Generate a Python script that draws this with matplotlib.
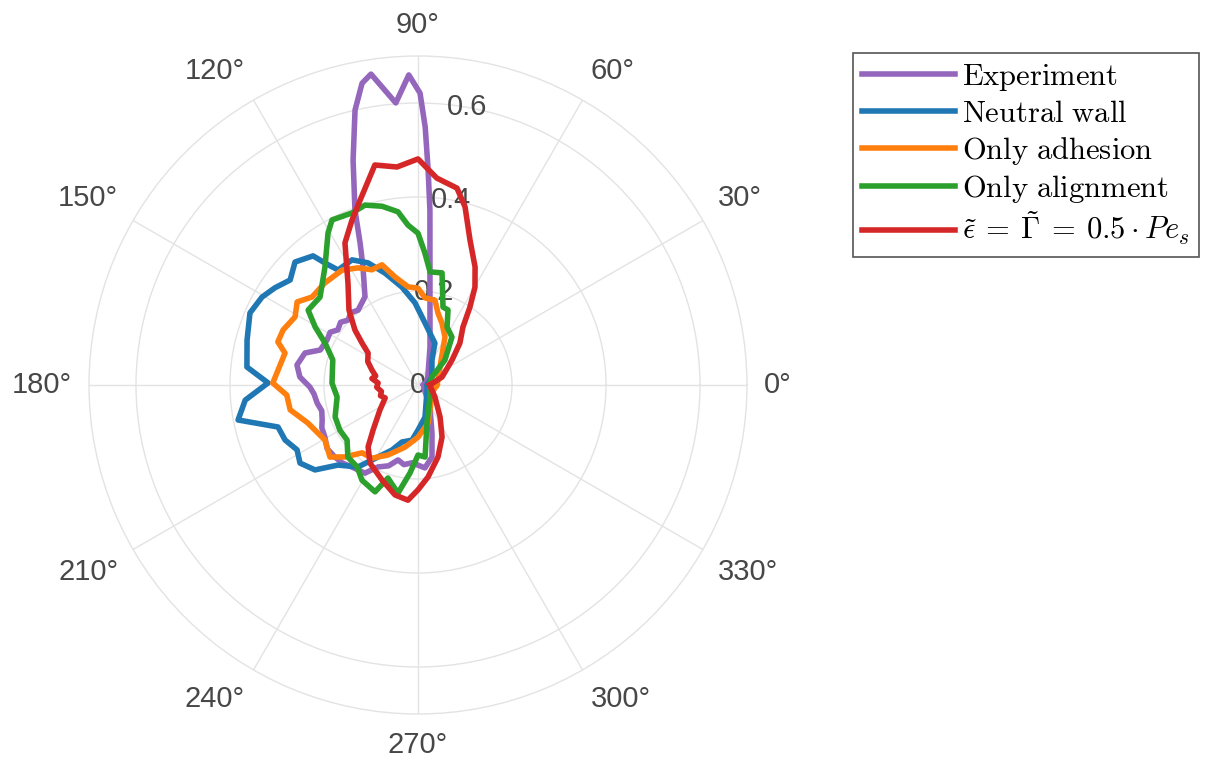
import numpy as np
import matplotlib.pyplot as plt

plt.rcParams['mathtext.fontset'] = 'cm'
plt.rcParams['font.family'] = ['Liberation Sans', 'DejaVu Sans']

# angle (deg) / radius pairs
exp_theta = [0, 20, 45, 72.5, 82, 86.1, 87.3, 88.4, 89.6, 91.7, 94.5, 98.6, 100.5, 102.9,
             106.1, 109.8, 112.2, 115, 121, 128.7, 133, 137.1, 141, 145.5, 149, 153.7, 160.3,
             164.2, 170.6, 176.1, 181.1, 185, 190.1, 195, 200, 204, 209.2, 215, 220.9, 226,
             231.2, 238.9, 244, 250, 255.1, 260, 265.6, 274.8, 281, 286.3, 298.6, 330]
exp_r = [0.012, 0.02, 0.03, 0.085, 0.183, 0.373, 0.458, 0.549, 0.621, 0.660, 0.602, 0.669, 0.653, 0.600,
         0.498, 0.396, 0.326, 0.277, 0.219, 0.204, 0.210, 0.203, 0.212, 0.207, 0.218, 0.216, 0.221,
         0.250, 0.261, 0.252, 0.230, 0.222, 0.218, 0.212, 0.217, 0.224, 0.227, 0.236, 0.234, 0.231,
         0.224, 0.219, 0.194, 0.183, 0.165, 0.172, 0.166, 0.177, 0.156, 0.106, 0.053, 0.015]

neutral_theta = [0, 30, 60.8, 68, 83.6, 92.1, 99.3, 106.4, 112.3, 117.8, 124.8, 127.3, 129.1, 135,
                 140.6, 145.8, 150.6, 156.8, 165.3, 174, 179.2, 185, 191, 196.7, 202.5, 208.2,
                 213.5, 219.5, 225, 233.8, 238.5, 248.2, 254.3, 263.8, 270, 282.3, 331]
neutral_r = [0.02, 0.034, 0.061, 0.096, 0.133, 0.175, 0.211, 0.248, 0.281, 0.301, 0.298, 0.326, 0.354, 0.370,
             0.352, 0.368, 0.381, 0.389, 0.376, 0.366, 0.319, 0.369, 0.390, 0.311, 0.306, 0.292,
             0.301, 0.284, 0.241, 0.216, 0.187, 0.149, 0.126, 0.118, 0.096, 0.070, 0.022]

adh_theta = [0, 14, 47, 60.6, 68.8, 74.5, 78.7, 85.4, 90, 95.8, 102, 106.7, 111.8, 117.1, 123.5,
             132.4, 140.3, 145.5, 151, 157.8, 162.9, 166.5, 179.2, 184.4, 191, 199, 210.6, 219.3,
             224.6, 230.5, 237.8, 246.8, 258.2, 270, 284.7, 295.6, 330]
adh_r = [0.04, 0.044, 0.072, 0.117, 0.141, 0.159, 0.184, 0.186, 0.206, 0.210, 0.235, 0.267, 0.264, 0.280, 0.293,
         0.294, 0.293, 0.312, 0.299, 0.310, 0.312, 0.291, 0.309, 0.280, 0.277, 0.248, 0.230, 0.242,
         0.218, 0.187, 0.184, 0.162, 0.135, 0.111, 0.084, 0.059, 0.034]

align_theta = [0, 29.7, 42.8, 54.7, 63.4, 68.2, 72.2, 77.9, 83.9, 87, 90, 93.6, 96.6, 101.4, 106.4,
               111, 117.5, 120.6, 128.2, 138.1, 145.7, 150.6, 155.7, 163.6, 178.7, 188.4, 201.1,
               210, 217.8, 225.8, 233.4, 239.5, 248.1, 252.1, 259.5, 264.8, 270, 275.6, 283.3, 315]
align_r = [0.025, 0.034, 0.078, 0.125, 0.138, 0.172, 0.174, 0.244, 0.242, 0.281, 0.323, 0.341, 0.371, 0.388, 0.399,
           0.392, 0.396, 0.376, 0.320, 0.280, 0.283, 0.251, 0.217, 0.189, 0.183, 0.174, 0.189,
           0.192, 0.191, 0.214, 0.217, 0.235, 0.245, 0.208, 0.234, 0.188, 0.149, 0.154, 0.083, 0.036]

both_theta = [0, 18.4, 36.3, 45, 52.2, 56.3, 59.8, 64.2, 70.3, 75.2, 78.8, 84.8, 90, 95.5, 101.1,
              107.4, 111.8, 117.2, 124.5, 132.6, 138.9, 143.1, 147.4, 155, 162, 168, 172, 177.1,
              183, 190, 196, 201.5, 213.3, 225, 231.1, 238.4, 249.2, 258.2, 265, 270, 276.2,
              285.5, 294.8, 304.5, 324.8]
both_r = [0.025, 0.054, 0.090, 0.126, 0.156, 0.199, 0.241, 0.279, 0.328, 0.392, 0.427, 0.442, 0.481, 0.466, 0.477,
          0.412, 0.378, 0.340, 0.263, 0.217, 0.178, 0.149, 0.126, 0.118, 0.103, 0.092, 0.099, 0.085,
          0.088, 0.079, 0.083, 0.075, 0.097, 0.135, 0.169, 0.195, 0.216, 0.239, 0.246, 0.223, 0.197,
          0.159, 0.122, 0.083, 0.044]

labels = [r'$\mathrm{Experiment}$', r'$\mathrm{Neutral\ wall}$', r'$\mathrm{Only\ adhesion}$',
          r'$\mathrm{Only\ alignment}$', r'$\tilde{\epsilon}\:=\:\tilde{\Gamma}\:=\:0.5\cdot Pe_s$']
colors = ['#9467bd', '#1f77b4', '#ff7f0e', '#2ca02c', '#d62728']

theta_ticks = list(range(0, 360, 30))
r_ticks = [0.2, 0.4, 0.6]
r_max = 0.7

series = [(exp_theta, exp_r), (neutral_theta, neutral_r), (adh_theta, adh_r),
          (align_theta, align_r), (both_theta, both_r)]

fig = plt.figure(figsize=(12.05, 7.65), dpi=100)
ax = fig.add_axes([89 / 1205, 51 / 765, 658 / 1205, 658 / 765], projection='polar')

for (th, r), lab, c in zip(series, labels, colors):
    th = np.deg2rad(np.append(th, th[0]))
    r = np.append(r, r[0])
    ax.plot(th, r, color=c, lw=4, label=lab, zorder=3)

ax.set_ylim(0, r_max)
ax.set_yticks(r_ticks)
ax.set_yticklabels([])
ax.set_xticks(np.deg2rad(theta_ticks))
ax.set_xticklabels([])
ax.tick_params(length=0)
ax.grid(color='#e3e3e3', lw=1.0)
ax.spines['polar'].set_color('#e3e3e3')
ax.spines['polar'].set_linewidth(1.0)

txt_color = '#474747'
# radial labels along 80 deg
for v in [0] + r_ticks:
    ax.text(np.deg2rad(80), v, f'{v:g}', ha='center', va='center', fontsize=21,
            color=txt_color, zorder=2)

# angle labels, anchored on the edge facing the circle
lab_r = r_max + 17 / 470
for a in theta_ticks:
    c, s = np.cos(np.deg2rad(a)), np.sin(np.deg2rad(a))
    ha = 'left' if c > 0.01 else ('right' if c < -0.01 else 'center')
    va = 'bottom' if s > 0.01 else ('top' if s < -0.01 else 'center')
    ax.text(np.deg2rad(a), lab_r, f'{a}°', ha=ha, va=va, fontsize=21,
            color=txt_color, clip_on=False)

leg = fig.legend(loc='upper left', bbox_to_anchor=(853 / 1205, 1 - 53 / 765),
                 borderaxespad=0, fontsize=22, handlelength=3.05, handletextpad=0.23,
                 borderpad=0.3, labelspacing=0.19, fancybox=False, framealpha=1,
                 edgecolor='#555555')
leg.get_frame().set_linewidth(1.2)

fig.savefig('out.png', dpi=100)
